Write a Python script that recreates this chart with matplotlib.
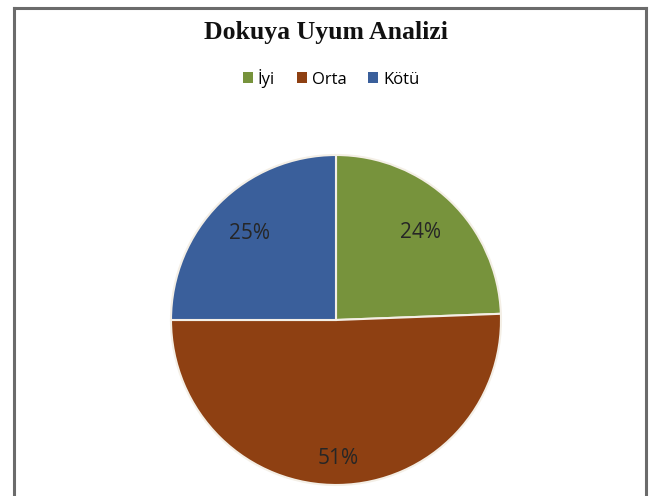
import matplotlib
matplotlib.use("Agg")
import matplotlib.pyplot as plt
from matplotlib.lines import Line2D
from matplotlib.patches import Patch

title = "Dokuya Uyum Analizi"
categories = ["İyi", "Orta", "Kötü"]
values = [24.4, 50.6, 25.0]
colors = ["#77933C", "#8E4012", "#3A5F9B"]

W, H = 649, 496
fig = plt.figure(figsize=(W / 100, H / 100), dpi=100)
fig.patch.set_facecolor("white")

# border (left, top, right)
for xs, ys in [([14 / W, 14 / W], [0, 1 - 8 / H]),
               ([14 / W, 646 / W], [1 - 8 / H, 1 - 8 / H]),
               ([646 / W, 646 / W], [1 - 8 / H, 0])]:
    fig.add_artist(Line2D(xs, ys, transform=fig.transFigure, color="#6b6b6b", lw=2.2))

fig.text(326 / W, 1 - 33 / H, title, ha="center", va="center",
         fontsize=18.5, fontweight="bold", family="Liberation Serif", color="#111111")

# pie axes: center (336, 320), radius 165
cx, cy, r = 336, 320, 165
ax = fig.add_axes([(cx - r) / W, 1 - (cy + r) / H, 2 * r / W, 2 * r / H])
wedges, texts, autotexts = ax.pie(
    values, colors=colors, startangle=90, counterclock=False,
    autopct=lambda p: f"{p:.0f}%", pctdistance=0.74,
    wedgeprops=dict(edgecolor="#f4efe6", linewidth=1.5),
    textprops=dict(fontsize=15, family="Open Sans", color="#262626"))
# the large slice label sits further out
x, y = autotexts[1].get_position()
autotexts[1].set_position((x / 0.74 * 0.84, y / 0.74 * 0.84))
ax.set_aspect("equal")
ax.set_xlim(-1, 1)
ax.set_ylim(-1, 1)
ax.axis("off")

handles = [Patch(facecolor=c, edgecolor="none") for c in colors]
fig.legend(handles, categories, loc="center", bbox_to_anchor=(331 / W, 1 - 78 / H),
           ncol=3, frameon=False, handlelength=0.6, handleheight=0.6,
           handletextpad=0.3, columnspacing=1.3,
           prop=dict(family="Open Sans", size=12))

fig.savefig("out.png", dpi=100, facecolor="white")
